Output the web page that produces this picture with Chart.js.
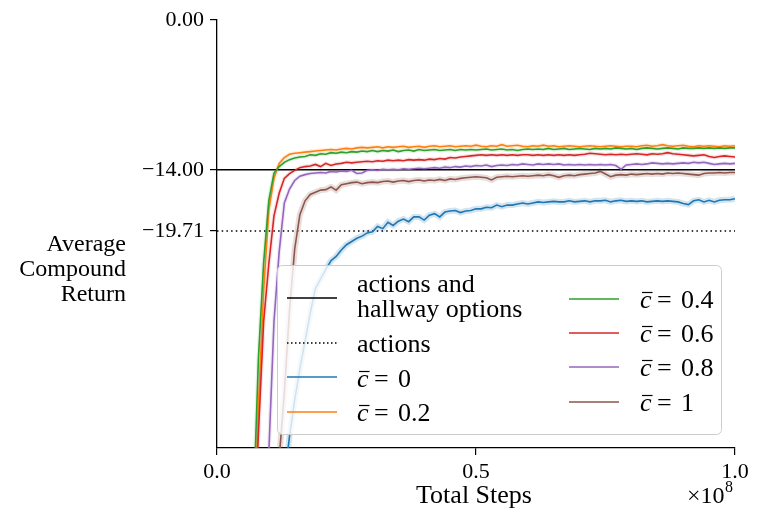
<!DOCTYPE html>
<html>
<head>
<meta charset="utf-8">
<script src="https://cdn.jsdelivr.net/npm/chart.js@4.4.1/dist/chart.umd.min.js"></script>
<style>
  body { margin: 0; background: #fff; }
  #wrap { width: 761px; height: 520px; }
</style>
</head>
<body>
<div id="wrap"><canvas id="returnChart" width="761" height="520"></canvas></div>
<script>
// total steps (x 1e8)
var steps = [
  0.06, 0.07, 0.08, 0.09, 0.10, 0.11, 0.12, 0.13, 0.14, 0.15,
  0.16, 0.17, 0.18, 0.19, 0.20, 0.21, 0.22, 0.23, 0.24, 0.25,
  0.26, 0.27, 0.28, 0.29, 0.30, 0.31, 0.32, 0.33, 0.34, 0.35,
  0.36, 0.37, 0.38, 0.39, 0.40, 0.41, 0.42, 0.43, 0.44, 0.45,
  0.46, 0.47, 0.48, 0.49, 0.50, 0.51, 0.52, 0.53, 0.54, 0.55,
  0.56, 0.57, 0.58, 0.59, 0.60, 0.61, 0.62, 0.63, 0.64, 0.65,
  0.66, 0.67, 0.68, 0.69, 0.70, 0.71, 0.72, 0.73, 0.74, 0.75,
  0.76, 0.77, 0.78, 0.79, 0.80, 0.81, 0.82, 0.83, 0.84, 0.85,
  0.86, 0.87, 0.88, 0.89, 0.90, 0.91, 0.92, 0.93, 0.94, 0.95,
  0.96, 0.97, 0.98, 0.99, 1.00
];

var c00 = [
  -60, -60, -60, -60, -60, -60, -60, -43, -38.9, -35.5,
  -32.6, -30.0, -27.4, -25.1, -24.2, -23.3, -22.5, -22.1, -21.5, -21.0,
  -20.7, -20.4, -20.2, -19.9, -19.8, -19.3, -19.5, -18.9, -19.2, -18.8,
  -18.6, -18.85, -18.4, -18.4, -18.7, -18.25, -18.1, -18.4, -17.95, -17.85,
  -17.8, -18.0, -17.85, -17.8, -17.65, -17.65, -17.5, -17.55, -17.3, -17.45,
  -17.3, -17.3, -17.2, -17.1, -17.2, -17.1, -17.0, -17.05, -17.0, -16.95,
  -17.0, -17.0, -16.9, -17.0, -16.95, -16.9, -17.0, -16.9, -16.9, -16.85,
  -17.0, -16.9, -16.85, -16.95, -16.9, -16.95, -16.9, -17.0, -16.95, -16.9,
  -16.95, -16.9, -16.95, -17.0, -17.15, -17.25, -16.9, -16.8, -17.0, -16.85,
  -17.0, -16.85, -16.8, -16.8, -16.7
];
var c02 = [
  -60, -50, -36, -25.3, -17.8, -14.8, -13.4, -12.85, -12.55, -12.45,
  -12.4, -12.35, -12.3, -12.25, -12.2, -12.15, -12.1, -12.15, -12.05, -12.0,
  -12.05, -11.95, -11.9, -11.95, -11.9, -11.85, -11.95, -11.85, -11.9, -11.85,
  -11.8, -11.9, -11.85, -11.8, -11.9, -11.8, -11.75, -11.85, -11.8, -11.75,
  -11.85, -11.8, -11.75, -11.8, -11.7, -11.8, -11.85, -11.75, -11.8, -11.65,
  -11.8, -11.75, -11.7, -11.8, -11.85, -11.75, -11.8, -11.7, -11.8, -11.75,
  -11.85, -11.8, -11.75, -11.8, -11.85, -11.8, -11.75, -11.8, -11.85, -11.8,
  -11.75, -11.8, -11.85, -11.8, -11.8, -11.85, -11.75, -11.7, -11.8, -11.75,
  -11.65, -11.75, -11.8, -11.75, -11.7, -11.8, -11.85, -11.75, -11.8, -11.75,
  -11.8, -11.85, -11.75, -11.8, -11.75
];
var c04 = [
  -60, -46, -31.6, -22.7, -16.9, -14.3, -13.7, -13.3, -13.05, -12.9,
  -12.8, -12.75, -12.6, -12.65, -12.5, -12.55, -12.4, -12.45, -12.35, -12.4,
  -12.3, -12.35, -12.25, -12.3, -12.2, -12.3, -12.2, -12.25, -12.15, -12.3,
  -12.2, -12.15, -12.25, -12.1, -12.2, -12.15, -12.1, -12.2, -12.15, -12.1,
  -12.2, -12.1, -12.15, -12.1, -12.15, -12.1, -12.05, -12.15, -12.1, -12.05,
  -12.15, -12.1, -12.2, -12.1, -12.05, -12.1, -12.05, -12.1, -12.0, -12.1,
  -12.05, -12.0, -12.1, -12.05, -12.0, -12.05, -12.1, -12.0, -12.05, -12.0,
  -12.05, -11.95, -12.0, -12.05, -12.0, -12.1, -12.0, -11.95, -12.0, -12.05,
  -12.0, -11.95, -12.0, -12.05, -11.95, -12.0, -12.0, -11.95, -12.0, -11.95,
  -12.0, -11.95, -12.0, -11.95, -11.95
];
var c06 = [
  -60, -50, -38.6, -28.2, -22.8, -18.3, -16.2, -14.8, -14.35, -14.05,
  -13.8, -13.7, -13.65, -13.5, -13.7, -13.4, -13.6, -13.45, -13.4, -13.3,
  -13.35, -13.3, -13.25, -13.2, -13.25, -13.15, -13.2, -13.1, -13.15, -13.1,
  -13.15, -13.05, -13.1, -13.05, -13.1, -13.0, -13.05, -12.95, -13.0, -12.85,
  -12.9, -12.8, -12.75, -12.7, -12.65, -12.6, -12.65, -12.6, -12.65, -12.6,
  -12.65, -12.6, -12.65, -12.6, -12.6, -12.65, -12.6, -12.65, -12.6, -12.65,
  -12.6, -12.65, -12.6, -12.65, -12.6, -12.55, -12.45, -12.5, -12.55, -12.6,
  -12.55, -12.6, -12.55, -12.6, -12.55, -12.5, -12.55, -12.6, -12.5, -12.55,
  -12.5, -12.4, -12.5, -12.55, -12.6, -12.65, -12.7, -12.65, -12.6, -12.75,
  -12.85, -12.75, -12.7, -12.75, -12.8
];
var c08 = [
  -60, -60, -55, -48, -40.5, -28.2, -21.7, -17.1, -15.8, -15.0,
  -14.6, -14.45, -14.35, -14.3, -14.25, -14.3, -14.15, -14.2, -14.1, -14.15,
  -14.05, -14.35, -14.3, -14.05, -14.0, -14.05, -13.95, -14.0, -13.95, -14.0,
  -13.9, -13.95, -13.9, -13.85, -13.9, -13.85, -13.8, -13.85, -13.75, -13.8,
  -13.7, -13.75, -13.65, -13.7, -13.6, -13.65, -13.55, -13.7, -13.6, -13.55,
  -13.6, -13.5, -13.55, -13.45, -13.5, -13.55, -13.45, -13.5, -13.45, -13.5,
  -13.45, -13.55, -13.5, -13.55, -13.5, -13.55, -13.5, -13.55, -13.5, -13.55,
  -13.5, -13.6, -13.95, -13.55, -13.5, -13.45, -13.5, -13.45, -13.35, -13.4,
  -13.45, -13.4, -13.45, -13.4, -13.35, -13.4, -13.3, -13.35, -13.3, -13.4,
  -13.5, -13.45, -13.4, -13.45, -13.4
];
var c10 = [
  -60, -60, -60, -60, -60, -60, -41, -34.9, -27.1, -21.4,
  -18.2, -16.9, -16.3, -16.1, -15.9, -15.85, -15.6, -15.9, -15.4, -15.3,
  -15.2, -15.15, -15.3, -15.2, -15.15, -15.2, -15.1, -15.05, -15.15, -15.05,
  -15.0, -15.1, -15.0, -14.95, -15.05, -14.95, -15.0, -14.9, -15.0, -14.85,
  -14.9, -14.8, -14.75, -14.7, -14.65, -14.7, -14.75, -14.95, -14.7, -14.65,
  -14.6, -14.65, -14.6, -14.55, -14.6, -14.55, -14.5, -14.55, -14.45, -14.55,
  -14.7, -14.55, -14.5, -14.55, -14.45, -14.4, -14.35, -14.3, -14.15, -14.4,
  -14.65, -14.5, -14.45, -14.5, -14.4, -14.45, -14.4, -14.35, -14.4, -14.35,
  -14.4, -14.3, -14.35, -14.3, -14.35, -14.4, -14.45, -14.5, -14.35, -14.3,
  -14.3, -14.25, -14.3, -14.25, -14.25
];

var hallwayReturn = -14.00;
var actionsReturn = -19.71;
var yTicks = [0, -14.00, -19.71];
var xTicks = [0, 0.5, 1.0];

var seriesLabels = ['0', '0.2', '0.4', '0.6', '0.8', '1'];
var seriesColors = ['#1f77b4', '#ff7f0e', '#2ca02c', '#d62728', '#9467bd', '#8c564b'];
var seriesValues = [c00, c02, c04, c06, c08, c10];

var SERIF = '"Liberation Serif", "DejaVu Serif", serif';

function toPoints(vals) {
    return steps.map(function (s, i) { return { x: s, y: vals[i] }; });
}

function hexAlpha(hex, a) {
    var r = parseInt(hex.substr(1, 2), 16);
    var g = parseInt(hex.substr(3, 2), 16);
    var b = parseInt(hex.substr(5, 2), 16);
    return 'rgba(' + r + ',' + g + ',' + b + ',' + a + ')';
}

var datasets = [];

// faint spread bands under each curve
seriesValues.forEach(function (vals, i) {
    var wide = (i == 0 || i == 5);
    datasets.push({
        label: 'band' + i,
        data: toPoints(vals),
        borderColor: hexAlpha(seriesColors[i], wide ? 0.2 : 0.14),
        borderWidth: wide ? 6 : 4,
        pointRadius: 0,
        order: 20 + i
    });
});

datasets.push({
    label: 'actions and hallway options',
    data: [{ x: 0, y: hallwayReturn }, { x: 1, y: hallwayReturn }],
    borderColor: '#000',
    borderWidth: 1.5,
    pointRadius: 0,
    order: 12
});
datasets.push({
    label: 'actions',
    data: [{ x: 0, y: actionsReturn }, { x: 1, y: actionsReturn }],
    borderColor: '#000',
    borderWidth: 1.5,
    borderDash: [1.5, 3.2],
    pointRadius: 0,
    order: 11
});

seriesValues.forEach(function (vals, i) {
    datasets.push({
        label: 'c' + seriesLabels[i],
        data: toPoints(vals),
        borderColor: seriesColors[i],
        borderWidth: 1.6,
        pointRadius: 0,
        order: 6 - i
    });
});

function drawCbar(ctx, x, baseline, val) {
    ctx.font = 'italic 26px ' + SERIF;
    ctx.fillText('c', x, baseline);
    var w = ctx.measureText('c').width;
    ctx.beginPath();
    ctx.moveTo(x + 2, baseline - 15.5);
    ctx.lineTo(x + w + 1, baseline - 15.5);
    ctx.lineWidth = 1.2;
    ctx.strokeStyle = '#000';
    ctx.stroke();
    ctx.font = '26px ' + SERIF;
    ctx.fillText('=', x + 17, baseline);
    ctx.fillText(val, x + 41, baseline);
}

function legendLine(ctx, x, y, color, dash) {
    ctx.save();
    ctx.beginPath();
    ctx.moveTo(x, y);
    ctx.lineTo(x + 50, y);
    ctx.lineWidth = 1.6;
    ctx.strokeStyle = color;
    if (dash) ctx.setLineDash(dash);
    ctx.stroke();
    ctx.restore();
}

var decorPlugin = {
    id: 'decor',
    afterDraw: function (chart) {
        var ctx = chart.ctx;
        ctx.save();
        ctx.fillStyle = '#000';
        ctx.textBaseline = 'alphabetic';

        // y axis title, horizontal, right aligned
        ctx.font = '24px ' + SERIF;
        ctx.textAlign = 'right';
        ctx.fillText('Average', 126, 251);
        ctx.fillText('Compound', 126, 276);
        ctx.fillText('Return', 126, 301);

        // x axis title and multiplier
        ctx.font = '26px ' + SERIF;
        ctx.textAlign = 'center';
        ctx.fillText('Total Steps', 474, 503);
        ctx.textAlign = 'left';
        ctx.font = '24px ' + SERIF;
        ctx.fillText('\u00d710', 687, 503);
        ctx.font = '16px ' + SERIF;
        ctx.fillText('8', 725, 492);

        // legend box
        ctx.beginPath();
        ctx.roundRect(277.5, 265.5, 444, 169, 5);
        ctx.fillStyle = 'rgba(255,255,255,0.8)';
        ctx.fill();
        ctx.strokeStyle = '#cccccc';
        ctx.lineWidth = 1;
        ctx.stroke();

        ctx.fillStyle = '#000';
        ctx.textAlign = 'left';
        legendLine(ctx, 287, 298, '#000');
        ctx.font = '26px ' + SERIF;
        ctx.fillText('actions and', 357, 292);
        ctx.fillText('hallway options', 357, 317);
        legendLine(ctx, 287, 343, '#000', [1.5, 2.5]);
        ctx.fillText('actions', 357, 352);

        var rows = [
            [287, 377, 357, 387],
            [287, 412, 357, 421],
            [569, 299, 640, 308],
            [569, 333, 640, 342],
            [569, 367, 640, 376],
            [569, 402, 640, 411]
        ];
        rows.forEach(function (r, i) {
            legendLine(ctx, r[0], r[1], seriesColors[i]);
            ctx.fillStyle = '#000';
            drawCbar(ctx, r[2], r[3], seriesLabels[i]);
        });
        ctx.restore();
    }
};

var ctx = document.getElementById('returnChart');
var returnChart = new Chart(ctx, {
    type: 'line',
    data: { datasets: datasets },
    options: {
        responsive: false,
        animation: false,
        devicePixelRatio: 1,
        layout: { padding: { top: 20, right: 26, left: 0, bottom: 0 } },
        plugins: {
            legend: { display: false },
            tooltip: { enabled: false }
        },
        elements: { line: { tension: 0 } },
        scales: {
            x: {
                type: 'linear',
                min: 0,
                max: 1,
                afterBuildTicks: function (scale) {
                    scale.ticks = xTicks.map(function (v) { return { value: v }; });
                },
                afterFit: function (scale) { scale.height = 72; },
                ticks: {
                    color: '#000',
                    padding: 4,
                    maxRotation: 0,
                    font: { family: SERIF, size: 22 },
                    callback: function (v) { return Number(v).toFixed(1); }
                },
                grid: { drawOnChartArea: false, color: '#000', tickLength: 7, lineWidth: 1.2 },
                border: { color: '#000', width: 1.3 }
            },
            y: {
                type: 'linear',
                min: -40,
                max: 0,
                afterBuildTicks: function (scale) {
                    scale.ticks = yTicks.map(function (v) { return { value: v }; });
                },
                afterFit: function (scale) { scale.width = 217; },
                ticks: {
                    color: '#000',
                    padding: 6,
                    font: { family: SERIF, size: 22 },
                    callback: function (v) {
                        return (v < 0 ? '\u2212' : '') + Math.abs(v).toFixed(2);
                    }
                },
                grid: { drawOnChartArea: false, color: '#000', tickLength: 7, lineWidth: 1.2 },
                border: { color: '#000', width: 1.3 }
            }
        }
    },
    plugins: [decorPlugin]
});
</script>
</body>
</html>
